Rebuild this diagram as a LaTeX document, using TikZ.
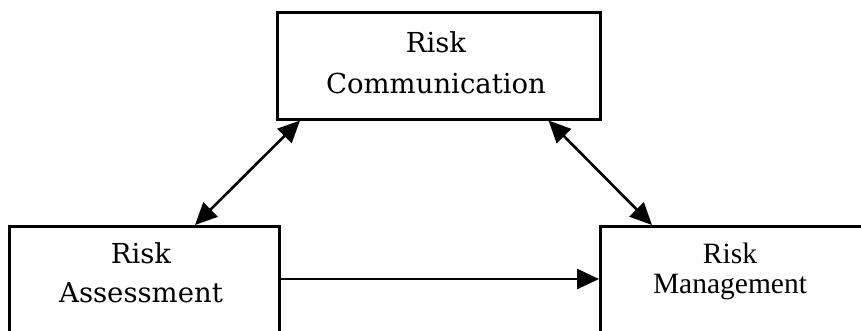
\documentclass[tikz,border=0pt]{standalone}
\usepackage{fontspec}
\setmainfont{Liberation Serif}
\newfontfamily\boxserif{DejaVu Serif}
\usetikzlibrary{arrows.meta,calc}
\tikzset{
  panel/.style={draw=black, line width=2.5pt, fill=white, inner sep=0pt, anchor=north west},
  camtext/.style={inner sep=0pt, anchor=base, font=\boxserif\fontsize{27.5}{30}\selectfont},
  timestext/.style={inner sep=0pt, anchor=base, font=\fontsize{29.5}{32}\selectfont},
  tip/.style={Triangle[length=22pt,width=20pt]},
  link/.style={line width=2.6pt, {Triangle[length=22pt,width=20pt]}-{Triangle[length=22pt,width=20pt]}},
  onelink/.style={line width=2.6pt, -{Triangle[length=22pt,width=20pt]}}
}
\begin{document}
\begin{tikzpicture}[x=1pt,y=-1pt]
  \useasboundingbox (0,0) rectangle (861,330);
  \clip (0,0) rectangle (861,330);
  \fill[white] (0,0) rectangle (861,330);

  % the three stages
  \node[panel, minimum width=323pt, minimum height=107pt] (comm) at (276,11) {};
  \node[panel, minimum width=270pt, minimum height=200pt] (assess) at (8,225) {};
  \node[panel, minimum width=300pt, minimum height=200pt] (manage) at (599,225) {};

  % labels
  \node[camtext] (commA) at (436,52) {Risk};
  \node[camtext] (commB) at (436,93) {Communication};
  \node[camtext] (assessA) at (141,263) {Risk};
  \node[camtext] (assessB) at (141,302) {Assessment};
  \node[timestext] (manageA) at (730,263) {Risk};
  \node[timestext] (manageB) at (730,293) {Management};

  % connector end points on the box edges
  \coordinate (cL) at ($(comm.south west)+(24,0)$);
  \coordinate (aT) at ($(assess.north west)+(187,0)$);
  \coordinate (cR) at ($(comm.south east)+(-53,0)$);
  \coordinate (mT) at ($(manage.north west)+(53,0)$);
  \coordinate (aR) at ($(assess.north east)+(0,54)$);
  \coordinate (mL) at ($(manage.north west)+(0,54)$);

  \draw[link] (aT) -- (cL);
  \draw[link] (cR) -- (mT);
  \draw[onelink] (aR) -- (mL);
\end{tikzpicture}
\end{document}
